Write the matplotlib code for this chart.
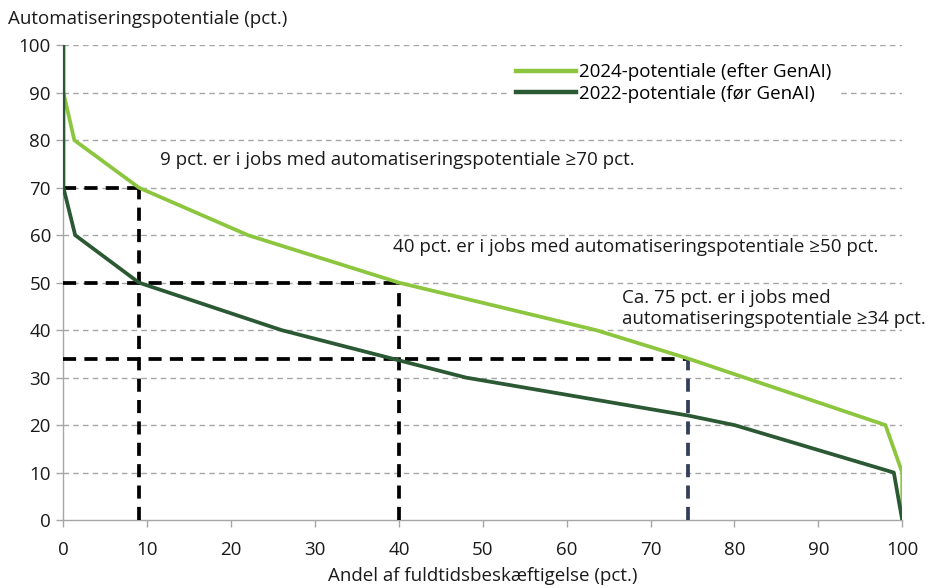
import matplotlib
matplotlib.use("Agg")
import matplotlib.pyplot as plt

plt.rcParams['font.family'] = ['Open Sans', 'DejaVu Sans']

# Data
x_2024 = [0, 1.3, 9, 22, 40, 63.5, 74.5, 98, 100, 100]
y_2024 = [90, 80, 70, 60, 50, 40, 34, 20, 10, 0]
x_2022 = [0, 0, 1.4, 9, 26, 48, 74.5, 80, 99, 100]
y_2022 = [100, 70, 60, 50, 40, 30, 22, 20, 10, 0]

label_2024 = "2024-potentiale (efter GenAI)"
label_2022 = "2022-potentiale (før GenAI)"

# reference markers (share, threshold)
ref_share = [9, 40, 74.5]
ref_thresh = [70, 50, 34]
ref_colors = ['black', 'black', '#333d5c']

notes = ["9 pct. er i jobs med automatiseringspotentiale ≥70 pct.",
         "40 pct. er i jobs med automatiseringspotentiale ≥50 pct.",
         "Ca. 75 pct. er i jobs med\nautomatiseringspotentiale ≥34 pct."]
note_pos = [(11.5, 75.8), (39.3, 57.5), (66.6, 44.6)]

xticks = list(range(0, 101, 10))
yticks = list(range(0, 101, 10))

light = '#8cc63e'
dark = '#2b5934'

fig = plt.figure(figsize=(9.33, 5.88), dpi=100)
ax = fig.add_axes([0.068, 0.1156, 0.899, 0.8074])

for y in yticks[1:]:
    ax.axhline(y, color='#a6a6a6', lw=1, ls=(0, (4, 3)), zorder=1)

for s, t, c in zip(ref_share, ref_thresh, ref_colors):
    ax.plot([0, s], [t, t], color='black', lw=2.7, ls=(0, (3.5, 2.2)), zorder=3)
    ax.plot([s, s], [0, t], color=c, lw=2.7, ls=(0, (3.5, 2.2)), zorder=3)

ax.plot(x_2024, y_2024, color=light, lw=2.7, label=label_2024, zorder=4)
ax.plot(x_2022, y_2022, color=dark, lw=2.7, label=label_2022, zorder=4)

fs = 13.5
for txt, (tx, ty) in zip(notes, note_pos):
    ax.text(tx, ty, txt, fontsize=fs, ha='left', va='center', color='#1a1a1a',
            linespacing=1.2, zorder=5)

ax.set_xlim(0, 100)
ax.set_ylim(0, 100)
ax.set_xticks(xticks)
ax.set_yticks(yticks)
ax.tick_params(labelsize=fs, colors='#a6a6a6', labelcolor='#1a1a1a', length=5, width=1)
ax.tick_params(axis='x', pad=10)
ax.tick_params(axis='y', pad=4)
for sp in ['top', 'right']:
    ax.spines[sp].set_visible(False)
for sp in ['left', 'bottom']:
    ax.spines[sp].set_color('#a6a6a6')
    ax.spines[sp].set_linewidth(1)

ax.set_xlabel("Andel af fuldtidsbeskæftigelse (pct.)", fontsize=fs, color='#1a1a1a', labelpad=6)
fig.text(0.009, 0.968, "Automatiseringspotentiale (pct.)", fontsize=fs, color='#1a1a1a',
         ha='left', va='center')

leg = ax.legend(loc='upper left', bbox_to_anchor=(0.52, 0.998), fontsize=fs,
                frameon=True, fancybox=False, edgecolor='none', facecolor='white',
                framealpha=1, handlelength=3.2, handletextpad=0.15, labelspacing=0.2,
                borderpad=0.4)
leg.set_zorder(6)
for h in leg.get_lines():
    h.set_linewidth(3.2)

fig.savefig("out.png", dpi=100, facecolor='white')
